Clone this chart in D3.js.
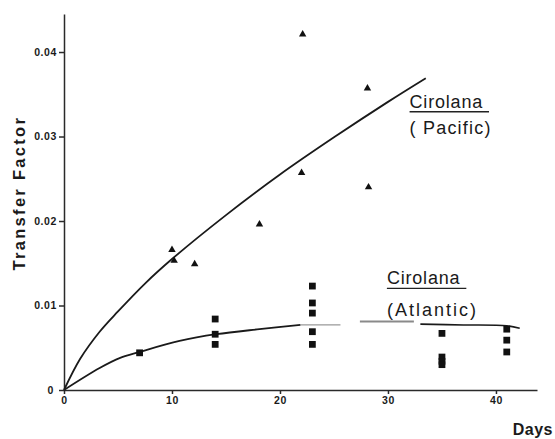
<!DOCTYPE html>
<html>
<head>
<meta charset="utf-8">
<script src="https://cdn.jsdelivr.net/npm/d3@7"></script>
<style>
  body { margin: 0; background: #fff; }
  text { font-family: "Liberation Sans", Arial, sans-serif; fill: #1a1a1a; }
</style>
</head>
<body>
<div id="chart"></div>
<script>
// Pacific: triangles [day, transfer factor]
const pacificDays   = [10, 10.2, 12.1, 18.1, 22.1, 22.0, 28.1, 28.2];
const pacificValues = [0.0166, 0.0153, 0.0149, 0.0196, 0.0421, 0.0257, 0.0357, 0.0240];

// Atlantic: squares
const atlanticDays   = [7, 14, 14, 14, 23, 23, 23, 23, 23, 35, 35, 35, 35, 41, 41, 41];
const atlanticValues = [0.0044, 0.0084, 0.0066, 0.0054, 0.0123, 0.0103, 0.0091, 0.0069, 0.0054,
                        0.0067, 0.0039, 0.0034, 0.0030, 0.0072, 0.0059, 0.0045];

// fitted curves
const pacificCurveDays   = [0, 1.5, 3.3, 5, 7.5, 10, 15, 20, 25, 30, 33.5];
const pacificCurveValues = [0, 0.0037, 0.0069, 0.0093, 0.0126, 0.0155, 0.0207, 0.0255, 0.0299, 0.0341, 0.0369];

const atlanticCurveDays   = [0, 3.3, 5.2, 7, 10.7, 14.1, 18.1, 21.9];
const atlanticCurveValues = [0, 0.0026, 0.0038, 0.0045, 0.0058, 0.0066, 0.0072, 0.0077];
const atlanticFadeDays    = [21.9, 25.6];
const atlanticFadeValues  = [0.0077, 0.0077];
const atlanticMidDays     = [27.4, 32.4];
const atlanticMidValues   = [0.0081, 0.0081];
const atlanticTailDays    = [33.0, 37, 41, 42.2];
const atlanticTailValues  = [0.0078, 0.0077, 0.0076, 0.0073];

const xTicks = [0, 10, 20, 30, 40];
const yTicks = [0, 0.01, 0.02, 0.03, 0.04];

const svg = d3.select("#chart").append("svg")
    .attr("width", 555).attr("height", 439);

let x = d3.scaleLinear().domain([0, 43.8]).range([64, 537]);
let y = d3.scaleLinear().domain([0, 0.0445]).range([390, 14]);

// axes
let xAxis = svg.append("g")
    .attr("transform", `translate(0,${y(0)})`)
    .call(d3.axisBottom(x).tickValues(xTicks).tickSize(4).tickSizeOuter(0).tickPadding(3)
        .tickFormat(d3.format("d")));
let yAxis = svg.append("g")
    .attr("transform", `translate(${x(0)},0)`)
    .call(d3.axisLeft(y).tickValues(yTicks).tickSize(5).tickSizeOuter(0).tickPadding(2)
        .tickFormat(d => d === 0 ? "0" : d3.format(".2f")(d)));

[xAxis, yAxis].forEach(g => {
    g.selectAll("path, line").attr("stroke", "#2a2a2a").attr("stroke-width", 1.5);
    g.selectAll("text")
        .style("font-family", "'Liberation Sans', Arial, sans-serif")
        .style("font-size", "10.5px")
        .style("font-weight", "bold")
        .style("letter-spacing", "0.6px")
        .attr("fill", "#222");
});
yAxis.select(".tick text").attr("x", -10);

// axis titles
svg.append("text")
    .attr("transform", `translate(25,${y(0.0233)}) rotate(-90)`)
    .attr("text-anchor", "middle")
    .style("font-size", "16.5px")
    .style("font-weight", "bold")
    .style("letter-spacing", "2.3px")
    .text("Transfer Factor");

svg.append("text")
    .attr("x", 553).attr("y", 435)
    .attr("text-anchor", "end")
    .style("font-size", "16px")
    .style("font-weight", "bold")
    .style("letter-spacing", "0.5px")
    .text("Days");

// curves
let line = d3.line().x(d => x(d[0])).y(d => y(d[1])).curve(d3.curveCatmullRom.alpha(0.5));
function drawCurve(days, values, color, width) {
    svg.append("path")
        .attr("d", line(d3.zip(days, values)))
        .attr("fill", "none")
        .attr("stroke", color)
        .attr("stroke-width", width);
}
drawCurve(pacificCurveDays, pacificCurveValues, "#1a1a1a", 1.8);
drawCurve(atlanticCurveDays, atlanticCurveValues, "#1a1a1a", 1.8);
drawCurve(atlanticFadeDays, atlanticFadeValues, "#999", 1.2);
drawCurve(atlanticMidDays, atlanticMidValues, "#8a8a8a", 2);
drawCurve(atlanticTailDays, atlanticTailValues, "#1a1a1a", 1.6);

// points
svg.append("g").selectAll("path")
    .data(d3.zip(pacificDays, pacificValues))
    .join("path")
    .attr("transform", d => `translate(${x(d[0])},${y(d[1])})`)
    .attr("d", d3.symbol(d3.symbolTriangle, 24))
    .attr("fill", "#111");

svg.append("g").selectAll("path")
    .data(d3.zip(atlanticDays, atlanticValues))
    .join("path")
    .attr("transform", d => `translate(${x(d[0])},${y(d[1])})`)
    .attr("d", d3.symbol(d3.symbolSquare, 46))
    .attr("fill", "#111");

// series labels
const label2 = ["( Pacific)", "(Atlantic)"];
function seriesLabel(day, val, second, spacing) {
    let g = svg.append("g").attr("transform", `translate(${x(day)},${y(val)})`);
    let t = g.append("text")
        .style("font-size", "18px")
        .style("letter-spacing", "0.8px")
        .text("Cirolana");
    let w = t.node().getComputedTextLength() + 6;
    g.append("line")
        .attr("x1", 0).attr("x2", w)
        .attr("y1", 4).attr("y2", 4)
        .attr("stroke", "#222").attr("stroke-width", 1.4);
    g.append("text")
        .attr("y", second)
        .style("font-size", "18px")
        .style("letter-spacing", spacing + "px")
        .text(label2[day > 31 ? 0 : 1]);
}
seriesLabel(32.0, 0.0334, 26, 1.2);
seriesLabel(29.9, 0.0125, 32, 2.0);
</script>
</body>
</html>
